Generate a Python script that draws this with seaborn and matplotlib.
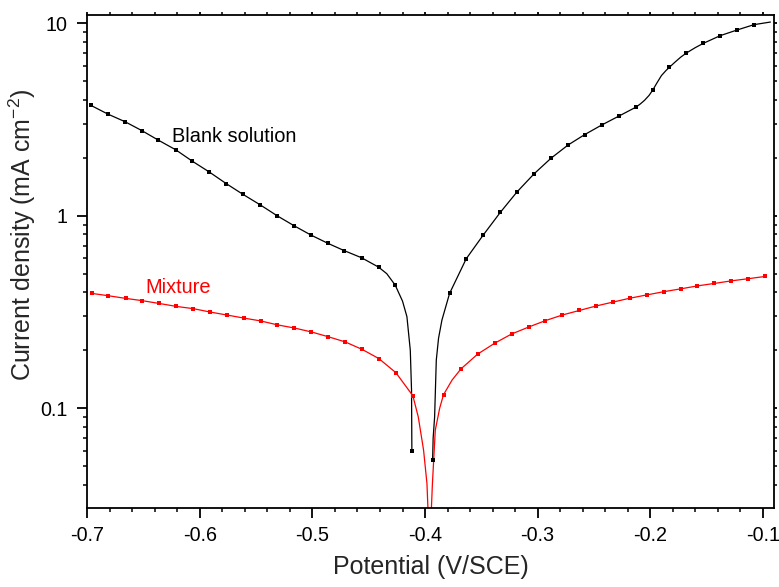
import numpy as np
import pandas as pd
import matplotlib
matplotlib.use("Agg")
import matplotlib.pyplot as plt
import seaborn as sns
from matplotlib.ticker import LogLocator, MultipleLocator, FixedLocator, NullFormatter

# ---- data ----
blank_E = [-0.697, -0.682, -0.6665, -0.6516, -0.6369, -0.6214, -0.6067, -0.5918, -0.5767,
           -0.5616, -0.5465, -0.5314, -0.5163, -0.5014, -0.4863, -0.4716, -0.4564, -0.4413,
           -0.4265, -0.4117,
           -0.3933, -0.3782, -0.3634, -0.3483, -0.3332, -0.3183, -0.3032, -0.2881, -0.2730,
           -0.2582, -0.2431, -0.2280, -0.2129, -0.1978, -0.1829, -0.1678, -0.1527, -0.1379,
           -0.1228, -0.1077]
blank_i = [3.75, 3.38, 3.08, 2.77, 2.47, 2.20, 1.92, 1.69, 1.47,
           1.29, 1.14, 1.00, 0.887, 0.794, 0.719, 0.658, 0.605, 0.541,
           0.436, 0.060,
           0.0535, 0.395, 0.598, 0.794, 1.04, 1.33, 1.65, 1.99, 2.33,
           2.64, 2.96, 3.29, 3.66, 4.49, 5.91, 7.01, 7.87, 8.62,
           9.23, 9.84]

# fitted curve (line only)
blank_fit_E = [-0.697, -0.682, -0.6665, -0.6516, -0.6369, -0.6214, -0.6067, -0.5918, -0.5767,
               -0.5616, -0.5465, -0.5314, -0.5163, -0.5014, -0.4863, -0.4716, -0.4564, -0.4413,
               -0.4340, -0.4265, -0.4200, -0.4161, -0.4131, -0.4120, -0.4117,
               np.nan,
               -0.3933, -0.3928, -0.3915, -0.3900, -0.3880, -0.3850, -0.3782, -0.3634, -0.3483,
               -0.3332, -0.3183, -0.3032, -0.2881, -0.2730, -0.2582, -0.2431, -0.2280, -0.2129,
               -0.2090, -0.2050, -0.2010, -0.1978, -0.1940, -0.1900, -0.1860, -0.1829, -0.1780,
               -0.1730, -0.1678, -0.1600, -0.1527, -0.1379, -0.1228, -0.1077, -0.0932]
blank_fit_i = [3.75, 3.38, 3.08, 2.77, 2.47, 2.20, 1.92, 1.69, 1.47,
               1.29, 1.14, 1.00, 0.887, 0.794, 0.719, 0.658, 0.605, 0.541,
               0.500, 0.436, 0.360, 0.299, 0.200, 0.124, 0.060,
               np.nan,
               0.0535, 0.070, 0.090, 0.178, 0.231, 0.287, 0.395, 0.598, 0.794,
               1.04, 1.33, 1.65, 1.99, 2.33, 2.64, 2.96, 3.29, 3.66,
               3.80, 3.98, 4.22, 4.49, 4.90, 5.35, 5.68, 5.91, 6.28,
               6.66, 7.01, 7.47, 7.87, 8.62, 9.23, 9.84, 10.15]

mix_E = [-0.6961, -0.6813, -0.6659, -0.6511, -0.6360, -0.6209, -0.6058, -0.5909, -0.5761,
         -0.5610, -0.5459, -0.5311, -0.5160, -0.5009, -0.4858, -0.4709, -0.4558, -0.4410,
         -0.4259, -0.4108,
         -0.3836, -0.3681, -0.3533, -0.3379, -0.3231, -0.3080, -0.2932, -0.2780, -0.2629,
         -0.2478, -0.2330, -0.2179, -0.2028, -0.1880, -0.1729, -0.1580, -0.1429, -0.1278,
         -0.1127, -0.0976]
mix_i = [0.395, 0.384, 0.372, 0.362, 0.350, 0.338, 0.329, 0.316, 0.305,
         0.294, 0.284, 0.271, 0.261, 0.249, 0.235, 0.221, 0.202, 0.181,
         0.153, 0.116,
         0.1175, 0.160, 0.191, 0.218, 0.243, 0.264, 0.285, 0.305, 0.322,
         0.340, 0.356, 0.373, 0.388, 0.403, 0.417, 0.432, 0.445, 0.459,
         0.471, 0.484]

mix_fit_E = [-0.6961, -0.6813, -0.6659, -0.6511, -0.6360, -0.6209, -0.6058, -0.5909, -0.5761,
             -0.5610, -0.5459, -0.5311, -0.5160, -0.5009, -0.4858, -0.4709, -0.4558, -0.4410,
             -0.4259, -0.4108, -0.4060, -0.4013, -0.3983, -0.3959, -0.3935, -0.3909,
             -0.3870, -0.3836, -0.3760, -0.3681, -0.3533, -0.3379, -0.3231, -0.3080, -0.2932,
             -0.2780, -0.2629, -0.2478, -0.2330, -0.2179, -0.2028, -0.1880, -0.1729, -0.1580,
             -0.1429, -0.1278, -0.1127, -0.0976]
mix_fit_i = [0.395, 0.384, 0.372, 0.362, 0.350, 0.338, 0.329, 0.316, 0.305,
             0.294, 0.284, 0.271, 0.261, 0.249, 0.235, 0.221, 0.202, 0.181,
             0.153, 0.116, 0.090, 0.0605, 0.0406, 0.018, 0.040, 0.0769,
             0.100, 0.1175, 0.140, 0.160, 0.191, 0.218, 0.243, 0.264, 0.285,
             0.305, 0.322, 0.340, 0.356, 0.373, 0.388, 0.403, 0.417, 0.432,
             0.445, 0.459, 0.471, 0.484]

x_ticks = [-0.7, -0.6, -0.5, -0.4, -0.3, -0.2, -0.1]
x_tick_labels = ["-0.7", "-0.6", "-0.5", "-0.4", "-0.3", "-0.2", "-0.1"]
y_ticks = [0.1, 1, 10]
y_tick_labels = ["0.1", "1", "10"]

# ---- plot ----
sns.set_theme(style="ticks")
plt.rcParams['font.family'] = ['Liberation Sans', 'DejaVu Sans']
plt.rcParams['mathtext.fontset'] = 'custom'
plt.rcParams['mathtext.rm'] = 'Liberation Sans'

fig = plt.figure(figsize=(7.79, 5.87), dpi=100)
ax = fig.add_axes([0.1121, 0.1341, 0.8815, 0.8398])
ax.set_yscale("log")

df_bf = pd.DataFrame({"E": blank_fit_E, "i": blank_fit_i})
df_mf = pd.DataFrame({"E": mix_fit_E, "i": mix_fit_i})
ax.plot(df_bf["E"], df_bf["i"], color="black", lw=0.9)
ax.plot(df_mf["E"], df_mf["i"], color="#ff0000", lw=0.9)

sns.scatterplot(x=blank_E, y=blank_i, ax=ax, marker="s", s=8, color="black",
                edgecolor="black", linewidth=0, zorder=3)
sns.scatterplot(x=mix_E, y=mix_i, ax=ax, marker="s", s=8, color="#ff0000",
                edgecolor="#ff0000", linewidth=0, zorder=3)

ax.set_xlim(-0.7, -0.09)
ax.set_ylim(0.0302, 11.0)

ax.xaxis.set_major_locator(FixedLocator(x_ticks))
ax.set_xticklabels(x_tick_labels)
ax.xaxis.set_minor_locator(MultipleLocator(0.02))
ax.yaxis.set_major_locator(FixedLocator(y_ticks))
ax.set_yticklabels(y_tick_labels)
ax.yaxis.set_minor_locator(LogLocator(base=10, subs=np.arange(2, 10)))
ax.yaxis.set_minor_formatter(NullFormatter())

for s in ax.spines.values():
    s.set_linewidth(1.3)
    s.set_color("black")

ax.tick_params(axis="both", which="major", direction="out", length=7, width=1.3,
               labelsize=14.2, colors="black")
ax.tick_params(axis="x", which="major", pad=6)
ax.tick_params(axis="y", which="major", pad=7.5)
ax.tick_params(axis="both", which="minor", direction="out", length=3, width=1.3)
ax.tick_params(top=True, right=True, which="both")
for t in ax.xaxis.get_major_ticks() + ax.xaxis.get_minor_ticks():
    t.tick2line.set_markersize(2)
for t in ax.yaxis.get_major_ticks() + ax.yaxis.get_minor_ticks():
    t.tick2line.set_markersize(2)

ax.set_xlabel("Potential (V/SCE)", fontsize=18, labelpad=7)
ax.set_ylabel(r"Current density (mA cm$^{\mathregular{-2}}$)", fontsize=18)
ax.yaxis.set_label_coords(-0.0718, 0.554)

ax.text(-0.6247, 2.59, "Blank solution", fontsize=14.4, color="black", va="center", ha="left")
ax.text(-0.6487, 0.426, "Mixture", fontsize=14.4, color="#ff0000", va="center", ha="left")

fig.savefig("out.png", dpi=100)
